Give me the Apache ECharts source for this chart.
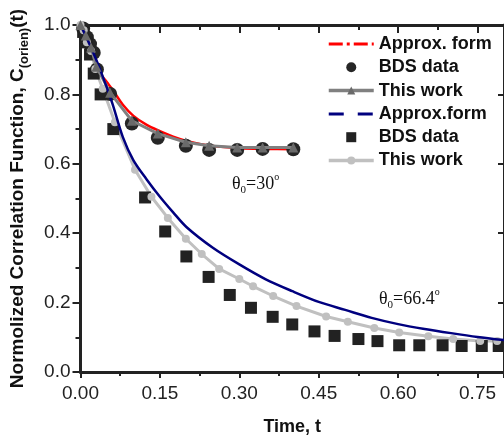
<!DOCTYPE html>
<html>
<head>
<meta charset="utf-8">
<script src="https://cdn.jsdelivr.net/npm/echarts@6/dist/echarts.min.js"></script>
<style>
html,body{margin:0;padding:0;background:#fff;}
#chart{width:504px;height:441px;}
</style>
</head>
<body>
<div id="chart"></div>
<script>
// ---- Data ----
// theta0 = 30 deg
var approx30T = [0, 0.01, 0.02, 0.03, 0.04, 0.05, 0.06, 0.08, 0.1, 0.125, 0.15, 0.175, 0.2, 0.25, 0.3, 0.35, 0.4];
var approx30C = [1.0, 0.958, 0.92, 0.885, 0.855, 0.835, 0.815, 0.77, 0.738, 0.712, 0.694, 0.678, 0.666, 0.651, 0.645, 0.643, 0.642];
var bds30T = [0.005, 0.012, 0.018, 0.025, 0.031, 0.056, 0.097, 0.146, 0.199, 0.243, 0.296, 0.344, 0.402];
var bds30C = [0.99, 0.965, 0.945, 0.92, 0.872, 0.801, 0.716, 0.675, 0.652, 0.640, 0.640, 0.643, 0.642];
var work30T = [0, 0.01, 0.02, 0.03, 0.056, 0.097, 0.146, 0.199, 0.243, 0.296, 0.344, 0.402];
var work30C = [1.0, 0.97, 0.935, 0.88, 0.805, 0.724, 0.687, 0.662, 0.652, 0.647, 0.647, 0.647];
// theta0 = 66.4 deg
var approx66T = [0, 0.02, 0.04, 0.06, 0.08, 0.1, 0.125, 0.15, 0.175, 0.2, 0.25, 0.3, 0.35, 0.4, 0.45, 0.5, 0.55, 0.6, 0.65, 0.7, 0.75, 0.8];
var approx66C = [1.0, 0.935, 0.86, 0.775, 0.677, 0.61, 0.555, 0.505, 0.46, 0.418, 0.358, 0.31, 0.267, 0.233, 0.202, 0.179, 0.156, 0.138, 0.124, 0.112, 0.101, 0.092];
var bds66T = [0.005, 0.012, 0.018, 0.025, 0.038, 0.062, 0.122, 0.16, 0.2, 0.242, 0.282, 0.322, 0.363, 0.4, 0.442, 0.48, 0.525, 0.561, 0.602, 0.64, 0.684, 0.72, 0.758, 0.79];
var bds66C = [0.98, 0.95, 0.915, 0.86, 0.80, 0.70, 0.503, 0.405, 0.333, 0.274, 0.222, 0.185, 0.159, 0.137, 0.117, 0.104, 0.095, 0.089, 0.077, 0.077, 0.077, 0.075, 0.075, 0.075];
var work66T = [0, 0.006, 0.012, 0.02, 0.028, 0.042, 0.065, 0.103, 0.134, 0.165, 0.199, 0.229, 0.262, 0.300, 0.326, 0.364, 0.408, 0.464, 0.505, 0.555, 0.602, 0.657, 0.704, 0.755, 0.787];
var work66C = [1.0, 0.985, 0.95, 0.925, 0.873, 0.816, 0.72, 0.583, 0.505, 0.444, 0.384, 0.340, 0.297, 0.268, 0.247, 0.219, 0.190, 0.160, 0.145, 0.127, 0.114, 0.103, 0.095, 0.089, 0.089];

var xTickStep = 0.15, xMin = 0, xMax = 0.8;
var yTickStep = 0.2, yMin = 0, yMax = 1.0;

function zip(a, b) { return a.map(function (v, i) { return [v, b[i]]; }); }

var FONT = '"Liberation Sans", Arial, sans-serif';
var SERIF = '"Liberation Serif", "Times New Roman", serif';
var AX = '#222';

var chart = echarts.init(document.getElementById('chart'), null, {renderer: 'canvas'});

var option = {
  animation: false,
  backgroundColor: '#fff',
  grid: {left: 76, top: 25, right: -4, bottom: 64, containLabel: false},
  xAxis: [{
    type: 'value', min: xMin, max: xMax, interval: xTickStep, position: 'bottom',
    name: 'Time, t', nameLocation: 'middle', nameGap: 46,
    nameTextStyle: {fontSize: 18, fontWeight: 'bold', color: '#111', fontFamily: FONT},
    axisLine: {show: true, onZero: false, lineStyle: {color: AX, width: 3}},
    axisTick: {show: true, inside: false, length: 6, lineStyle: {color: AX, width: 2}},
    minorTick: {show: true, splitNumber: 2, length: 4, lineStyle: {color: AX, width: 2}},
    axisLabel: {show: true, margin: 12, fontSize: 19, color: '#222', fontFamily: FONT, showMaxLabel: false,
      formatter: function (v) { return v.toFixed(2); }},
    splitLine: {show: false}
  }, {
    type: 'value', min: xMin, max: xMax, interval: xTickStep, position: 'top',
    axisLine: {show: true, onZero: false, lineStyle: {color: AX, width: 3}},
    axisTick: {show: true, inside: true, length: 8, lineStyle: {color: AX, width: 2}},
    minorTick: {show: true, splitNumber: 2, length: 5, lineStyle: {color: AX, width: 2}},
    axisLabel: {show: false},
    splitLine: {show: false}
  }],
  yAxis: [{
    type: 'value', min: yMin, max: yMax, interval: yTickStep, position: 'left',
    name: '{a|Normolized Correlation Function, C}{s|(orien)}{a|(t)}',
    nameLocation: 'middle', nameRotate: 90, nameGap: 50,
    nameTextStyle: {
      color: '#111',
      rich: {
        a: {fontSize: 19, fontWeight: 'bold', fontFamily: FONT, color: '#111', lineHeight: 26},
        s: {fontSize: 13, fontWeight: 'bold', fontFamily: FONT, color: '#111', verticalAlign: 'bottom'}
      }
    },
    axisLine: {show: true, onZero: false, lineStyle: {color: AX, width: 3}},
    axisTick: {show: true, inside: false, length: 8, lineStyle: {color: AX, width: 2}},
    minorTick: {show: true, splitNumber: 2, length: 5, lineStyle: {color: AX, width: 2}},
    axisLabel: {show: true, margin: 10, fontSize: 19, color: '#222', fontFamily: FONT,
      formatter: function (v) { return v.toFixed(1); }},
    splitLine: {show: false}
  }, {
    type: 'value', min: yMin, max: yMax, interval: yTickStep, position: 'right',
    axisLine: {show: true, onZero: false, lineStyle: {color: AX, width: 3}},
    axisTick: {show: true, inside: true, length: 6, lineStyle: {color: AX, width: 2}},
    axisLabel: {show: false},
    splitLine: {show: false}
  }],
  legend: {
    orient: 'vertical', left: 322, top: 29,
    itemWidth: 45, itemHeight: 10, itemGap: 3.3,
    textStyle: {fontSize: 18, fontWeight: 'bold', color: '#111', fontFamily: FONT, lineHeight: 20},
    formatter: function (n) { return n.replace(/ \(\d+\)$/, ''); },
    data: [
      {name: 'Approx. form', lineStyle: {type: [14, 4, 3, 4], width: 3}, itemStyle: {opacity: 0}},
      {name: 'BDS data (30)', icon: 'circle'},
      {name: 'This work (30)', lineStyle: {width: 3.5}},
      {name: 'Approx.form', lineStyle: {type: [15, 14], width: 3}, itemStyle: {opacity: 0}},
      {name: 'BDS data (66)', icon: 'path://M0,0L10,0L10,10L0,10Z'},
      {name: 'This work (66)', lineStyle: {width: 3.5}}
    ]
  },
  series: [{
    name: 'Approx. form', type: 'line', data: zip(approx30T, approx30C),
    symbol: 'none', smooth: 0.3, lineStyle: {color: '#ff0000', width: 2.5}, itemStyle: {color: '#ff0000'}, z: 2
  }, {
    name: 'BDS data (30)', type: 'scatter', data: zip(bds30T, bds30C),
    symbol: 'circle', symbolSize: 14, itemStyle: {color: '#262626', opacity: 1}, z: 3
  }, {
    name: 'This work (30)', type: 'line', data: zip(work30T, work30C),
    symbol: 'triangle', symbolSize: 10, showAllSymbol: true,
    lineStyle: {color: '#808080', width: 3}, itemStyle: {color: '#6a6a6a'}, z: 4
  }, {
    name: 'Approx.form', type: 'line', data: zip(approx66T, approx66C),
    symbol: 'none', smooth: 0.3, lineStyle: {color: '#00007f', width: 2.5}, itemStyle: {color: '#00007f'}, z: 4
  }, {
    name: 'BDS data (66)', type: 'scatter', data: zip(bds66T, bds66C),
    symbol: 'rect', symbolSize: 12, itemStyle: {color: '#222', opacity: 1}, z: 3
  }, {
    name: 'This work (66)', type: 'line', data: zip(work66T, work66C),
    symbol: 'circle', symbolSize: 8, showAllSymbol: true,
    lineStyle: {color: '#c0c0c0', width: 3}, itemStyle: {color: '#c0c0c0'}, z: 3
  }],
  graphic: [{
    type: 'text', left: 232, top: 172, z: 10,
    style: {
      text: '{a|θ}{b|0}{a|=30}{c|o}',
      rich: {
        a: {fontSize: 18, fontFamily: SERIF, fill: '#111', lineHeight: 24},
        b: {fontSize: 11, fontFamily: SERIF, fill: '#111', verticalAlign: 'bottom'},
        c: {fontSize: 10, fontFamily: SERIF, fill: '#111', verticalAlign: 'top'}
      }
    }
  }, {
    type: 'text', left: 379, top: 287, z: 10,
    style: {
      text: '{a|θ}{b|0}{a|=66.4}{c|o}',
      rich: {
        a: {fontSize: 18, fontFamily: SERIF, fill: '#111', lineHeight: 24},
        b: {fontSize: 11, fontFamily: SERIF, fill: '#111', verticalAlign: 'bottom'},
        c: {fontSize: 10, fontFamily: SERIF, fill: '#111', verticalAlign: 'top'}
      }
    }
  }]
};
chart.setOption(option);
</script>
</body>
</html>
